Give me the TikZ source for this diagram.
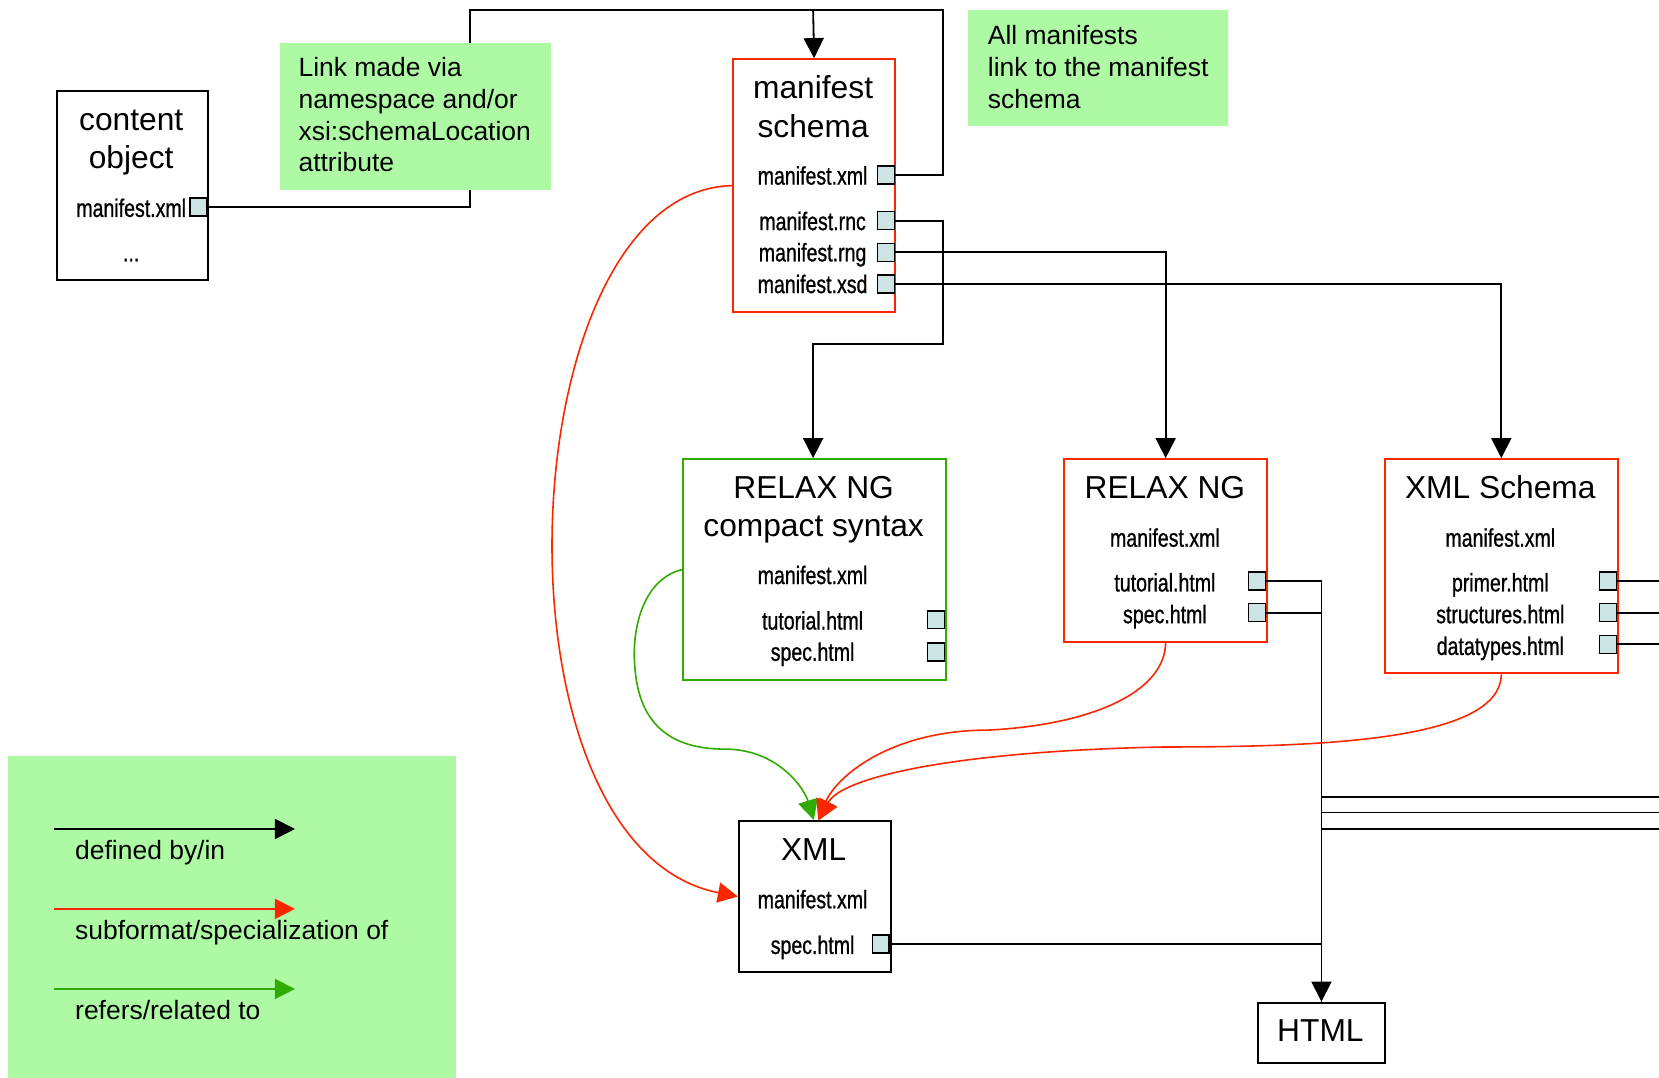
\documentclass[tikz,border=0pt]{standalone}
\usepackage{fontspec}
\setmainfont{Liberation Sans}
\newfontfamily\condf[FakeStretch=0.77,FakeBold=0.8]{Liberation Sans}
\usetikzlibrary{arrows.meta,calc}
\definecolor{notegreen}{RGB}{174,250,164}
\definecolor{linkred}{RGB}{250,38,0}
\definecolor{linkgreen}{RGB}{48,172,0}
\definecolor{portblue}{RGB}{204,228,228}
\tikzset{
  conn/.style={line width=1.7pt, draw=black},
  arrK/.style={conn, -{Triangle[length=19pt,width=19pt]}},
  arrR/.style={line width=1.5pt, draw=linkred, -{Triangle[length=19pt,width=19pt]}},
  arrG/.style={line width=1.5pt, draw=linkgreen, -{Triangle[length=19pt,width=19pt]}},
  fmtbox/.style={draw=black, line width=1.9pt, fill=white, inner sep=0pt, anchor=north west},
  titleT/.style={font=\fontsize{30}{36}\selectfont, anchor=base, inner sep=0pt},
  fileT/.style={font=\condf\fontsize{24}{28}\selectfont, anchor=base, inner sep=0pt},
  noteT/.style={font=\fontsize{25}{30}\selectfont, anchor=base west, inner sep=0pt},
  port/.style={draw=black, line width=1.5pt, fill=portblue, minimum width=16pt, minimum height=17pt, inner sep=0pt},
  notebox/.style={fill=notegreen, inner sep=0pt, anchor=north west},
}
\begin{document}
\begin{tikzpicture}[x=1pt,y=-1pt]
\path[use as bounding box, fill=white] (0,0) rectangle (1568,1018);

% ---------- boxes ----------
\node[fmtbox, minimum width=143pt, minimum height=179pt] (content) at (53,85) {};
\node[titleT] (contentA) at (124,123) {content};
\node[titleT] (contentB) at (124,159.5) {object};
\node[fileT] (contentF) at (124,205) {manifest.xml};
\node[fileT] (contentD) at (124,247) {...};
\node[port] (cport) at (187.5,195.5) {};

\node[fmtbox, draw=linkred, minimum width=153pt, minimum height=239pt] (mschema) at (692,55) {};
\node[titleT] (msA) at (768.5,93.5) {manifest};
\node[titleT] (msB) at (768.5,129.5) {schema};
\node[fileT] (msF1) at (768,174.5) {manifest.xml};
\node[fileT] (msF2) at (768,217.5) {manifest.rnc};
\node[fileT] (msF3) at (768,247) {manifest.rng};
\node[fileT] (msF4) at (768,277) {manifest.xsd};
\node[port] (mxport) at (837.5,165.5) {};
\node[port] (rncport) at (837.5,208.5) {};
\node[port] (rngport) at (837.5,238.5) {};
\node[port] (xsdport) at (837.5,268.5) {};

\node[fmtbox, draw=linkgreen, minimum width=248.5pt, minimum height=208.5pt] (compact) at (645,433) {};
\node[titleT] (cpA) at (769,471) {RELAX NG};
\node[titleT] (cpB) at (769,507) {compact syntax};
\node[fileT] (cpF1) at (768,552) {manifest.xml};
\node[fileT] (cpF2) at (768,595) {tutorial.html};
\node[fileT] (cpF3) at (768,624.5) {spec.html};
\node[port] (cptport) at (884.5,585.7) {};
\node[port] (cpsport) at (884.5,616) {};

\node[fmtbox, draw=linkred, minimum width=191.5pt, minimum height=172.5pt] (rng) at (1005,433) {};
\node[titleT] (rngA) at (1101,471) {RELAX NG};
\node[fileT] (rngF1) at (1101,516.7) {manifest.xml};
\node[fileT] (rngF2) at (1101,559) {tutorial.html};
\node[fileT] (rngF3) at (1101,589) {spec.html};
\node[port] (rtport) at (1188,549) {};
\node[port] (rsport) at (1188,579) {};

\node[fmtbox, draw=linkred, minimum width=220pt, minimum height=202.5pt] (xsdbox) at (1308,433) {};
\node[titleT] (xsA) at (1418,471) {XML Schema};
\node[fileT] (xsF1) at (1418,516.7) {manifest.xml};
\node[fileT] (xsF2) at (1418,559) {primer.html};
\node[fileT] (xsF3) at (1418,589) {structures.html};
\node[fileT] (xsF4) at (1418,619) {datatypes.html};
\node[port] (pport) at (1519.7,549) {};
\node[port] (sport) at (1519.7,579) {};
\node[port] (dport) at (1519.7,609) {};

\node[fmtbox, minimum width=143.5pt, minimum height=142.7pt] (xml) at (697.5,775) {};
\node[titleT] (xmlA) at (769,813.5) {XML};
\node[fileT] (xmlF1) at (768,858.5) {manifest.xml};
\node[fileT] (xmlF2) at (768,901.6) {spec.html};
\node[port] (xsport) at (832.5,892) {};

\node[fmtbox, minimum width=120pt, minimum height=56.7pt] (html) at (1188,946.7) {};
\node[titleT] (htmlA) at (1248,984.5) {HTML};

% ---------- black connectors ----------
\coordinate (topL) at (444,9.5);
\coordinate (topR) at (891,9.5);
\coordinate (topJ) at (768.5,9.5);
\draw[conn] (cport.east) -| (topL) -- (topR) |- (mxport.east);
\draw[arrK] (topJ) -- (mschema.north);

\coordinate (rncJ) at (768.5,325);
\draw[arrK] (rncport.east) -- (891,208.5) |- (rncJ) -- (rncJ |- compact.north);
\draw[arrK] (rngport.east) -| (rng.north);
\draw[arrK] (xsdport.east) -| (xsdbox.north);

\draw[arrK] (rtport.east) -| (html.north);
\draw[conn] (rsport.east) -| (html.north);
\draw[conn] (xsport.east) -| (html.north);

\coordinate (e1) at (1568,549);
\coordinate (e2) at (1568,579);
\coordinate (e3) at (1568,609);
\draw[conn] (pport.east) -- (e1);
\draw[conn] (sport.east) -- (e2);
\draw[conn] (dport.east) -- (e3);
\coordinate (r1) at (1568,753);
\coordinate (r2) at (1568,768);
\coordinate (r3) at (1568,783.5);
\draw[conn] (r1) -- (r1 -| html.north);
\draw[conn] (r2) -- (r2 -| html.north);
\draw[conn] (r3) -- (r3 -| html.north);

% ---------- red / green curves ----------
\draw[arrR] (mschema.west) .. controls (480,180) and (455,800) .. (xml.west);
\draw[arrG] (compact.west) .. controls (605,548) and (597,600) .. (600,630)
   .. controls (604,690) and (640,708) .. (685,708)
   .. controls (735,708) and (760,745) .. ($(xml.north)+(-1,0)$);
\draw[arrR] (rng.south) .. controls (1101,655) and (1030,685) .. (935,690)
   .. controls (840,690) and (790,735) .. ($(xml.north)+(3,0)$);
\draw[arrR] (xsdbox.south) .. controls (1418,700) and (1250,706) .. (1100,706)
   .. controls (900,710) and (795,735) .. ($(xml.north)+(4,0)$);

% ---------- notes ----------
\node[notebox, minimum width=257pt, minimum height=139pt] (note1) at (264,40) {};
\node[noteT] (n1a) at (282,72.5) {Link made via};
\node[noteT] (n1b) at (282,102.5) {namespace and/or};
\node[noteT] (n1c) at (282,132.5) {xsi:schemaLocation};
\node[noteT] (n1d) at (282,162.5) {attribute};

\node[notebox, minimum width=245pt, minimum height=109.5pt] (note2) at (915,9.5) {};
\node[noteT] (n2a) at (933.5,42.5) {All manifests};
\node[noteT] (n2b) at (933.5,72.5) {link to the manifest};
\node[noteT] (n2c) at (933.5,102.5) {schema};

% ---------- legend ----------
\node[notebox, minimum width=424pt, minimum height=305pt] (legend) at (7,714.5) {};
\coordinate (l1s) at (51.4,783.5);
\coordinate (l1e) at (278.8,783.5);
\coordinate (l2s) at (51.4,859);
\coordinate (l2e) at (278.8,859);
\coordinate (l3s) at (51.4,934.7);
\coordinate (l3e) at (278.8,934.7);
\draw[arrK] (l1s) -- (l1e);
\draw[arrR] (l2s) -- (l2e);
\draw[arrG] (l3s) -- (l3e);
\node[noteT] (lt1) at (70.9,812.8) {defined by/in};
\node[noteT] (lt2) at (70.9,888.4) {subformat/specialization of};
\node[noteT] (lt3) at (70.9,964) {refers/related to};
\end{tikzpicture}
\end{document}
